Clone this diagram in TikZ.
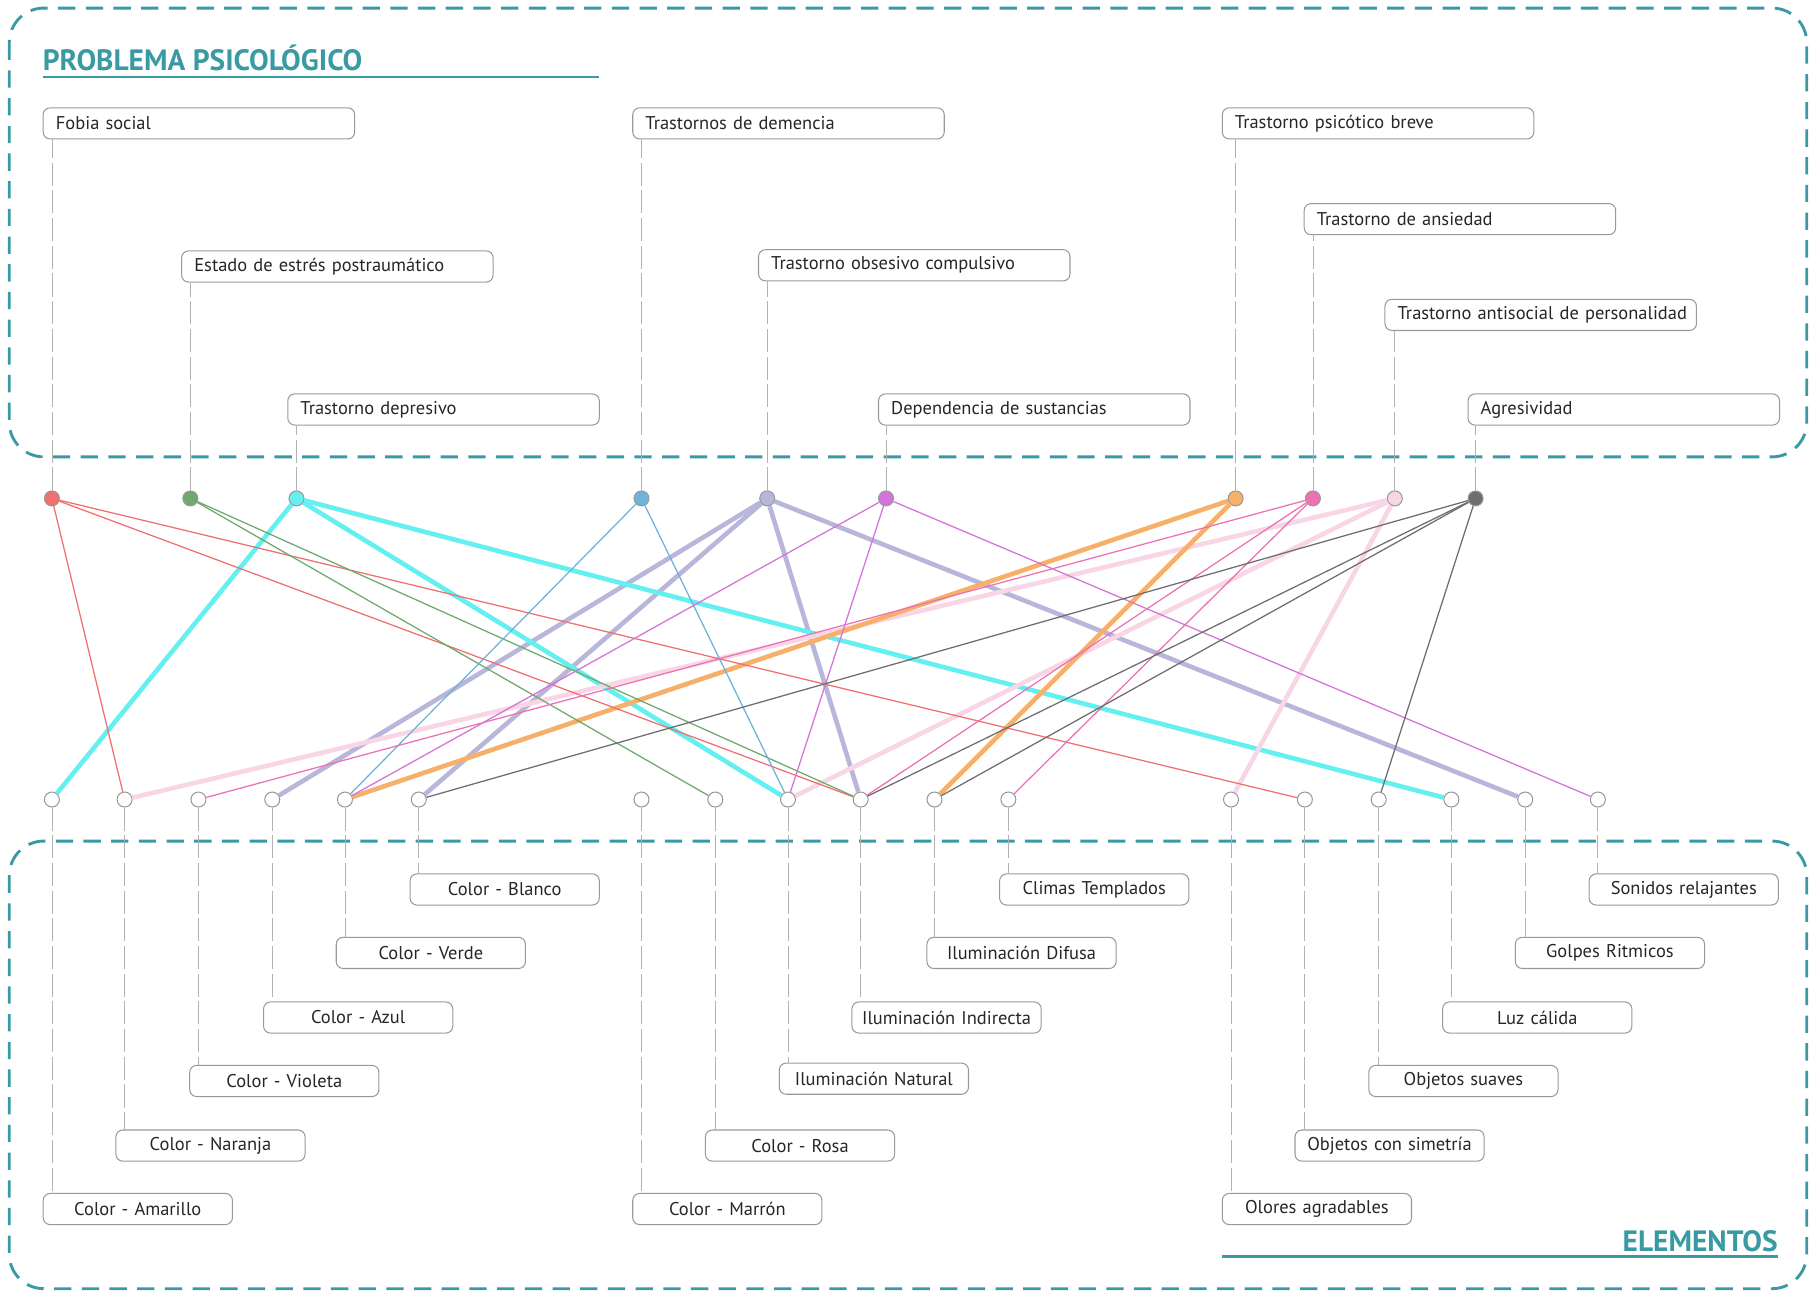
\documentclass[tikz,border=0pt]{standalone}
\usepackage{fontspec}
\setmainfont{PT Sans}

\definecolor{marco}{RGB}{58,154,163}
\definecolor{cfobia}{RGB}{240,112,112}
\definecolor{cestres}{RGB}{110,170,110}
\definecolor{cdepre}{RGB}{100,240,240}
\definecolor{cdemen}{RGB}{110,180,218}
\definecolor{ctoc}{RGB}{184,182,218}
\definecolor{cdepen}{RGB}{212,116,216}
\definecolor{cpsico}{RGB}{246,176,106}
\definecolor{cansi}{RGB}{236,114,180}
\definecolor{canti}{RGB}{248,214,230}
\definecolor{cagre}{RGB}{110,110,110}

\tikzset{%
  % Specifications for style of nodes:
      cajabase/.style = {rectangle, rounded corners=6pt, draw=gray!80,
                         line width=0.9pt, minimum height=27pt,
                         anchor=north west, inner sep=0pt, text=black!85,
                         font=\fontsize{16}{18}\selectfont},
      problema/.style = {cajabase, minimum width=270pt, text width=270pt,
                         align=left, execute at begin node={\hspace*{11pt}}},
      elemento/.style = {cajabase, minimum width=164pt, text width=164pt,
                         align=center},
        titulo/.style = {text=marco, inner sep=0pt,
                         font=\bfseries\fontsize{25.5}{28}\selectfont},
         punto/.style = {circle, draw=gray!80, line width=0.9pt,
                         minimum size=13pt, inner sep=0pt},
       vacio/.style = {punto, fill=white},
          guia/.style = {gray!60, line width=0.7pt, dash pattern=on 20pt off 4pt},
         panel/.style = {draw=marco, line width=2.5pt, dash pattern=on 15pt off 9pt,
                         rounded corners=30pt},
     subrayado/.style = {marco, line width=2pt},
          fino/.style = {line width=1.1pt},
        grueso/.style = {line width=4pt}
}

\begin{document}
\begin{tikzpicture}[x=1pt, y=-1pt]
  \useasboundingbox (0,0) rectangle (1568,1122);

  \draw[panel] (8,7) rectangle (1566,396);
  \draw[panel] (8,729) rectangle (1566,1117);

  \node (titulo) [titulo, anchor=base west] at (37,61) {PROBLEMA PSICOLÓGICO};
  \draw[subrayado] (37,67) -- (519,67);
  \node (titulo2) [titulo, anchor=base east] at (1541,1085) {ELEMENTOS};
  \draw[subrayado] (1059,1089) -- (1541,1089);

  % problemas
  \node (fobia)       [problema] at (37,93)    {Fobia social};
  \node (estres)      [problema] at (157,217)  {Estado de estrés postraumático};
  \node (depresivo)   [problema] at (249,341)  {Trastorno depresivo};
  \node (demencia)    [problema] at (548,93)   {Trastornos de demencia};
  \node (toc)         [problema] at (657,216)  {Trastorno obsesivo compulsivo};
  \node (dependencia) [problema] at (761,341)  {Dependencia de sustancias};
  \node (psicotico)   [problema] at (1059,93)  {Trastorno psicótico breve};
  \node (ansiedad)    [problema] at (1130,176) {Trastorno de ansiedad};
  \node (antisocial)  [problema] at (1200,259) {Trastorno antisocial de personalidad};
  \node (agresividad) [problema] at (1272,341) {Agresividad};

  \node (fobiadot)       [punto, fill=cfobia] at (45,432)   {};
  \node (estresdot)      [punto, fill=cestres] at (165,432) {};
  \node (depresivodot)   [punto, fill=cdepre] at (257,432)  {};
  \node (demenciadot)    [punto, fill=cdemen] at (556,432)  {};
  \node (tocdot)         [punto, fill=ctoc] at (665,432)    {};
  \node (dependenciadot) [punto, fill=cdepen] at (768,432)  {};
  \node (psicoticodot)   [punto, fill=cpsico] at (1071,432) {};
  \node (ansiedaddot)    [punto, fill=cansi] at (1138,432)  {};
  \node (antisocialdot)  [punto, fill=canti] at (1209,432)  {};
  \node (agresividaddot) [punto, fill=cagre] at (1279,432)  {};

  % elementos
  \node (amarillo)  [elemento] at (37,1034)   {Color - Amarillo};
  \node (naranja)   [elemento] at (100,979)   {Color - Naranja};
  \node (violeta)   [elemento] at (164,923)   {Color - Violeta};
  \node (azul)      [elemento] at (228,868)   {Color - Azul};
  \node (verde)     [elemento] at (291,812)   {Color - Verde};
  \node (blanco)    [elemento] at (355,757)   {Color - Blanco};
  \node (marron)    [elemento] at (548,1034)  {Color - Marrón};
  \node (rosa)      [elemento] at (611,979)   {Color - Rosa};
  \node (natural)   [elemento] at (675,921)   {Iluminación Natural};
  \node (indirecta) [elemento] at (738,868)   {Iluminación Indirecta};
  \node (difusa)    [elemento] at (803,812)   {Iluminación Difusa};
  \node (climas)    [elemento] at (866,757)   {Climas Templados};
  \node (olores)    [elemento] at (1059,1034) {Olores agradables};
  \node (simetria)  [elemento] at (1122,979)  {Objetos con simetría};
  \node (suaves)    [elemento] at (1186,923)  {Objetos suaves};
  \node (calida)    [elemento] at (1250,868)  {Luz cálida};
  \node (golpes)    [elemento] at (1313,812)  {Golpes Ritmicos};
  \node (sonidos)   [elemento] at (1377,757)  {Sonidos relajantes};

  \node (amarillodot)  [vacio] at (45,693)   {};
  \node (naranjadot)   [vacio] at (108,693)  {};
  \node (violetadot)   [vacio] at (172,693)  {};
  \node (azuldot)      [vacio] at (236,693)  {};
  \node (verdedot)     [vacio] at (299,693)  {};
  \node (blancodot)    [vacio] at (363,693)  {};
  \node (marrondot)    [vacio] at (556,693)  {};
  \node (rosadot)      [vacio] at (620,693)  {};
  \node (naturaldot)   [vacio] at (683,693)  {};
  \node (indirectadot) [vacio] at (746,693)  {};
  \node (difusadot)    [vacio] at (810,693)  {};
  \node (climasdot)    [vacio] at (874,693)  {};
  \node (oloresdot)    [vacio] at (1067,693) {};
  \node (simetriadot)  [vacio] at (1131,693) {};
  \node (suavesdot)    [vacio] at (1195,693) {};
  \node (calidadot)    [vacio] at (1258,693) {};
  \node (golpesdot)    [vacio] at (1322,693) {};
  \node (sonidosdot)   [vacio] at (1385,693) {};

  % guias
  \draw[guia] (fobiadot) -- (fobiadot |- fobia.south);
  \draw[guia] (estresdot) -- (estresdot |- estres.south);
  \draw[guia] (depresivodot) -- (depresivodot |- depresivo.south);
  \draw[guia] (demenciadot) -- (demenciadot |- demencia.south);
  \draw[guia] (tocdot) -- (tocdot |- toc.south);
  \draw[guia] (dependenciadot) -- (dependenciadot |- dependencia.south);
  \draw[guia] (psicoticodot) -- (psicoticodot |- psicotico.south);
  \draw[guia] (ansiedaddot) -- (ansiedaddot |- ansiedad.south);
  \draw[guia] (antisocialdot) -- (antisocialdot |- antisocial.south);
  \draw[guia] (agresividaddot) -- (agresividaddot |- agresividad.south);

  \draw[guia] (amarillodot) -- (amarillodot |- amarillo.north);
  \draw[guia] (naranjadot) -- (naranjadot |- naranja.north);
  \draw[guia] (violetadot) -- (violetadot |- violeta.north);
  \draw[guia] (azuldot) -- (azuldot |- azul.north);
  \draw[guia] (verdedot) -- (verdedot |- verde.north);
  \draw[guia] (blancodot) -- (blancodot |- blanco.north);
  \draw[guia] (marrondot) -- (marrondot |- marron.north);
  \draw[guia] (rosadot) -- (rosadot |- rosa.north);
  \draw[guia] (naturaldot) -- (naturaldot |- natural.north);
  \draw[guia] (indirectadot) -- (indirectadot |- indirecta.north);
  \draw[guia] (difusadot) -- (difusadot |- difusa.north);
  \draw[guia] (climasdot) -- (climasdot |- climas.north);
  \draw[guia] (oloresdot) -- (oloresdot |- olores.north);
  \draw[guia] (simetriadot) -- (simetriadot |- simetria.north);
  \draw[guia] (suavesdot) -- (suavesdot |- suaves.north);
  \draw[guia] (calidadot) -- (calidadot |- calida.north);
  \draw[guia] (golpesdot) -- (golpesdot |- golpes.north);
  \draw[guia] (sonidosdot) -- (sonidosdot |- sonidos.north);

  % relaciones
  \draw[grueso, ctoc]   (tocdot) -- (azuldot);
  \draw[grueso, ctoc]   (tocdot) -- (blancodot);
  \draw[grueso, ctoc]   (tocdot) -- (indirectadot);
  \draw[grueso, ctoc]   (tocdot) -- (golpesdot);
  \draw[grueso, cdepre] (depresivodot) -- (amarillodot);
  \draw[grueso, cdepre] (depresivodot) -- (naturaldot);
  \draw[grueso, cdepre] (depresivodot) -- (calidadot);
  \draw[grueso, canti]  (antisocialdot) -- (naranjadot);
  \draw[grueso, canti]  (antisocialdot) -- (naturaldot);
  \draw[grueso, canti]  (antisocialdot) -- (oloresdot);
  \draw[grueso, cpsico] (psicoticodot) -- (verdedot);
  \draw[grueso, cpsico] (psicoticodot) -- (difusadot);

  \draw[fino, cfobia]  (fobiadot) -- (naranjadot);
  \draw[fino, cfobia]  (fobiadot) -- (indirectadot);
  \draw[fino, cfobia]  (fobiadot) -- (simetriadot);
  \draw[fino, cestres] (estresdot) -- (rosadot);
  \draw[fino, cestres] (estresdot) -- (indirectadot);
  \draw[fino, cdemen]  (demenciadot) -- (verdedot);
  \draw[fino, cdemen]  (demenciadot) -- (naturaldot);
  \draw[fino, cdepen]  (dependenciadot) -- (verdedot);
  \draw[fino, cdepen]  (dependenciadot) -- (naturaldot);
  \draw[fino, cdepen]  (dependenciadot) -- (sonidosdot);
  \draw[fino, cansi]   (ansiedaddot) -- (violetadot);
  \draw[fino, cansi]   (ansiedaddot) -- (indirectadot);
  \draw[fino, cansi]   (ansiedaddot) -- (climasdot);
  \draw[fino, cagre]   (agresividaddot) -- (blancodot);
  \draw[fino, cagre]   (agresividaddot) -- (indirectadot);
  \draw[fino, cagre]   (agresividaddot) -- (difusadot);
  \draw[fino, cagre]   (agresividaddot) -- (suavesdot);
\end{tikzpicture}
\end{document}
